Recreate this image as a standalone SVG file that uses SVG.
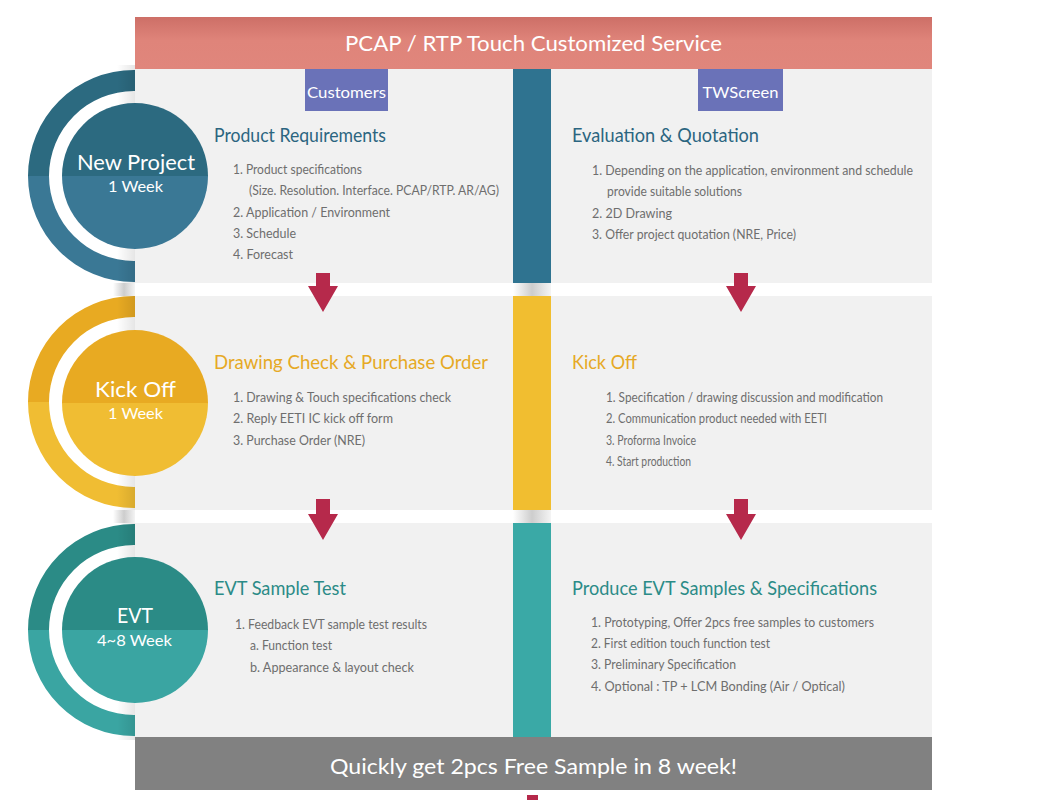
<svg xmlns="http://www.w3.org/2000/svg" width="1038" height="800" viewBox="0 0 1038 800">
<style>
  text { font-family: Lato, "Liberation Sans", sans-serif; }
  .panel { fill: #f1f1f1; }
  .item { font-size: 13px; fill: #6e6e6e; }
  .title { font-size: 19px; }
  .t-blue { fill: #2b6580; }
  .t-yel { fill: #e6a925; }
  .t-teal { fill: #2b8b87; }
  .cmain { font-size: 22px; fill: #ffffff; text-anchor: middle; }
  .csub { font-size: 16px; fill: #ffffff; text-anchor: middle; }
  .arrow { fill: #b6294b; }
  .tag { fill: #6a72b8; }
</style>
<defs>
  <linearGradient id="bannerG" x1="0" y1="0" x2="0" y2="1">
    <stop offset="0" stop-color="#cd6f67"/>
    <stop offset="0.45" stop-color="#df847a"/>
    <stop offset="1" stop-color="#e0867c"/>
  </linearGradient>
  <linearGradient id="gapG" x1="0" y1="0" x2="1" y2="0">
    <stop offset="0" stop-color="#ffffff"/>
    <stop offset="0.5" stop-color="#cdcdcd"/>
    <stop offset="1" stop-color="#f4f4f4"/>
  </linearGradient>
  <linearGradient id="edgeG" x1="0" y1="0" x2="1" y2="0">
    <stop offset="0" stop-color="#000000" stop-opacity="0"/>
    <stop offset="1" stop-color="#000000" stop-opacity="0.1"/>
  </linearGradient>
</defs>

<rect x="0" y="0" width="1038" height="800" fill="#ffffff"/>

<!-- outer rings (left halves visible) -->
<g id="rings">
  <path d="M28,176 A106,106 0 0 1 240,176 L219,176 A85,85 0 0 0 49,176 Z" fill="#2c6a80"/>
  <path d="M28,176 A106,106 0 0 0 240,176 L219,176 A85,85 0 0 1 49,176 Z" fill="#3a7895"/>
  <path d="M28,402 A106,106 0 0 1 240,402 L219,402 A85,85 0 0 0 49,402 Z" fill="#e8aa22"/>
  <path d="M28,402 A106,106 0 0 0 240,402 L219,402 A85,85 0 0 1 49,402 Z" fill="#f0bd33"/>
  <path d="M28,630 A106,106 0 0 1 240,630 L219,630 A85,85 0 0 0 49,630 Z" fill="#2b8b86"/>
  <path d="M28,630 A106,106 0 0 0 240,630 L219,630 A85,85 0 0 1 49,630 Z" fill="#3aa5a2"/>
  <rect x="117" y="65" width="18" height="675" fill="url(#edgeG)"/>
  <rect x="113" y="283" width="22" height="13" fill="url(#gapG)"/>
  <rect x="113" y="510" width="22" height="13" fill="url(#gapG)"/>
</g>

<!-- panels -->
<g id="panels">
  <rect class="panel" x="135" y="69" width="378" height="214"/>
  <rect class="panel" x="551" y="69" width="381" height="214"/>
  <rect class="panel" x="135" y="296" width="378" height="214"/>
  <rect class="panel" x="551" y="296" width="381" height="214"/>
  <rect class="panel" x="135" y="523" width="378" height="214"/>
  <rect class="panel" x="551" y="523" width="381" height="214"/>
  <rect x="513" y="69" width="38" height="214" fill="#2f7390"/>
  <rect x="513" y="283" width="38" height="13" fill="url(#gapG)"/>
  <rect x="513" y="296" width="38" height="214" fill="#f1be30"/>
  <rect x="513" y="510" width="38" height="13" fill="url(#gapG)"/>
  <rect x="513" y="523" width="38" height="214" fill="#3aa9a6"/>
</g>

<!-- banner -->
<g id="banner">
  <rect x="135" y="17" width="797" height="52" fill="url(#bannerG)"/>
  <text x="533.5" y="51" font-size="22" fill="#ffffff" text-anchor="middle" textLength="377" lengthAdjust="spacingAndGlyphs">PCAP / RTP Touch Customized Service</text>
</g>

<g id="tag-customers">
  <rect class="tag" x="305" y="69" width="83" height="42"/>
  <text x="346.5" y="98" font-size="16" fill="#ffffff" text-anchor="middle" textLength="79" lengthAdjust="spacingAndGlyphs">Customers</text>
</g>
<g id="tag-twscreen">
  <rect class="tag" x="698" y="69" width="85" height="42"/>
  <text x="740.5" y="98" font-size="16" fill="#ffffff" text-anchor="middle" textLength="76" lengthAdjust="spacingAndGlyphs">TWScreen</text>
</g>

<!-- circles -->
<g id="circle-new-project">
  <path d="M62,176 A73,73 0 0 1 208,176 Z" fill="#2c6a80"/>
  <path d="M62,176 A73,73 0 0 0 208,176 Z" fill="#3a7895"/>
  <text class="cmain" x="136" y="170" textLength="118" lengthAdjust="spacingAndGlyphs">New Project</text>
  <text class="csub" x="135.5" y="192" textLength="55" lengthAdjust="spacingAndGlyphs">1 Week</text>
</g>
<g id="circle-kick-off">
  <path d="M62,403 A73,73 0 0 1 208,403 Z" fill="#e8aa22"/>
  <path d="M62,403 A73,73 0 0 0 208,403 Z" fill="#f0bd33"/>
  <text class="cmain" x="135.5" y="397" textLength="81" lengthAdjust="spacingAndGlyphs">Kick Off</text>
  <text class="csub" x="135.5" y="419" textLength="55" lengthAdjust="spacingAndGlyphs">1 Week</text>
</g>
<g id="circle-evt">
  <path d="M62,630 A73,73 0 0 1 208,630 Z" fill="#2b8b86"/>
  <path d="M62,630 A73,73 0 0 0 208,630 Z" fill="#3aa5a2"/>
  <text class="cmain" x="135" y="623" textLength="36" lengthAdjust="spacingAndGlyphs">EVT</text>
  <text class="csub" x="134.5" y="646" textLength="75" lengthAdjust="spacingAndGlyphs">4~8 Week</text>
</g>

<!-- row 1 -->
<g id="product-requirements">
  <text class="title t-blue" x="214" y="142" textLength="172" lengthAdjust="spacingAndGlyphs">Product Requirements</text>
  <text class="item" x="233" y="174" textLength="129" lengthAdjust="spacingAndGlyphs">1. Product specifications</text>
  <text class="item" x="249" y="195" textLength="250" lengthAdjust="spacingAndGlyphs">(Size. Resolution. Interface. PCAP/RTP. AR/AG)</text>
  <text class="item" x="233" y="217" textLength="157" lengthAdjust="spacingAndGlyphs">2. Application / Environment</text>
  <text class="item" x="233" y="238" textLength="63" lengthAdjust="spacingAndGlyphs">3. Schedule</text>
  <text class="item" x="233" y="259" textLength="60" lengthAdjust="spacingAndGlyphs">4. Forecast</text>
</g>
<g id="evaluation-quotation">
  <text class="title t-blue" x="572" y="142" textLength="187" lengthAdjust="spacingAndGlyphs">Evaluation &amp; Quotation</text>
  <text class="item" x="592" y="175" textLength="321" lengthAdjust="spacingAndGlyphs">1. Depending on the application, environment and schedule</text>
  <text class="item" x="607" y="196" textLength="135" lengthAdjust="spacingAndGlyphs">provide suitable solutions</text>
  <text class="item" x="592" y="218" textLength="80" lengthAdjust="spacingAndGlyphs">2. 2D Drawing</text>
  <text class="item" x="592" y="239" textLength="204" lengthAdjust="spacingAndGlyphs">3. Offer project quotation (NRE, Price)</text>
</g>

<!-- row 2 -->
<g id="drawing-check">
  <text class="title t-yel" x="214" y="369" textLength="274" lengthAdjust="spacingAndGlyphs">Drawing Check &amp; Purchase Order</text>
  <text class="item" x="233" y="402" textLength="218" lengthAdjust="spacingAndGlyphs">1. Drawing &amp; Touch specifications check</text>
  <text class="item" x="233" y="423" textLength="160" lengthAdjust="spacingAndGlyphs">2. Reply EETI IC kick off form</text>
  <text class="item" x="233" y="445" textLength="132" lengthAdjust="spacingAndGlyphs">3. Purchase Order (NRE)</text>
</g>
<g id="kick-off">
  <text class="title t-yel" x="572" y="369" textLength="65" lengthAdjust="spacingAndGlyphs">Kick Off</text>
  <text class="item" x="606" y="402" textLength="277" lengthAdjust="spacingAndGlyphs">1. Specification / drawing discussion and modification</text>
  <text class="item" x="606" y="423" textLength="221" lengthAdjust="spacingAndGlyphs">2. Communication product needed with EETI</text>
  <text class="item" x="606" y="445" textLength="90" lengthAdjust="spacingAndGlyphs">3. Proforma Invoice</text>
  <text class="item" x="606" y="466" textLength="85" lengthAdjust="spacingAndGlyphs">4. Start production</text>
</g>

<!-- row 3 -->
<g id="evt-sample-test">
  <text class="title t-teal" x="214" y="595" textLength="132" lengthAdjust="spacingAndGlyphs">EVT Sample Test</text>
  <text class="item" x="235" y="629" textLength="192" lengthAdjust="spacingAndGlyphs">1. Feedback EVT sample test results</text>
  <text class="item" x="250" y="650" textLength="82" lengthAdjust="spacingAndGlyphs">a. Function test</text>
  <text class="item" x="250" y="672" textLength="164" lengthAdjust="spacingAndGlyphs">b. Appearance &amp; layout check</text>
</g>
<g id="produce-evt">
  <text class="title t-teal" x="572" y="595" textLength="305" lengthAdjust="spacingAndGlyphs">Produce EVT Samples &amp; Specifications</text>
  <text class="item" x="591" y="627" textLength="283" lengthAdjust="spacingAndGlyphs">1. Prototyping, Offer 2pcs free samples to customers</text>
  <text class="item" x="591" y="648" textLength="179" lengthAdjust="spacingAndGlyphs">2. First edition touch function test</text>
  <text class="item" x="591" y="669" textLength="145" lengthAdjust="spacingAndGlyphs">3. Preliminary Specification</text>
  <text class="item" x="591" y="691" textLength="254" lengthAdjust="spacingAndGlyphs">4. Optional : TP + LCM Bonding (Air / Optical)</text>
</g>

<!-- bottom bar -->
<g id="bottom-bar">
  <rect x="135" y="737" width="797" height="53" fill="#818181"/>
  <text x="533.5" y="774" font-size="22" fill="#ffffff" text-anchor="middle" textLength="407" lengthAdjust="spacingAndGlyphs">Quickly get 2pcs Free Sample in 8 week!</text>
</g>

<!-- connectors -->
<g id="connectors">
  <path class="arrow" d="M316,273 H330 V286 H338 L323,312 L308,286 H316 Z"/>
  <path class="arrow" d="M734,273 H748 V286 H756 L741,312 L726,286 H734 Z"/>
  <path class="arrow" d="M316,499 H330 V514 H338 L323,540 L308,514 H316 Z"/>
  <path class="arrow" d="M734,499 H748 V514 H756 L741,540 L726,514 H734 Z"/>
  <rect class="arrow" x="527" y="795" width="11" height="5"/>
</g>
</svg>
